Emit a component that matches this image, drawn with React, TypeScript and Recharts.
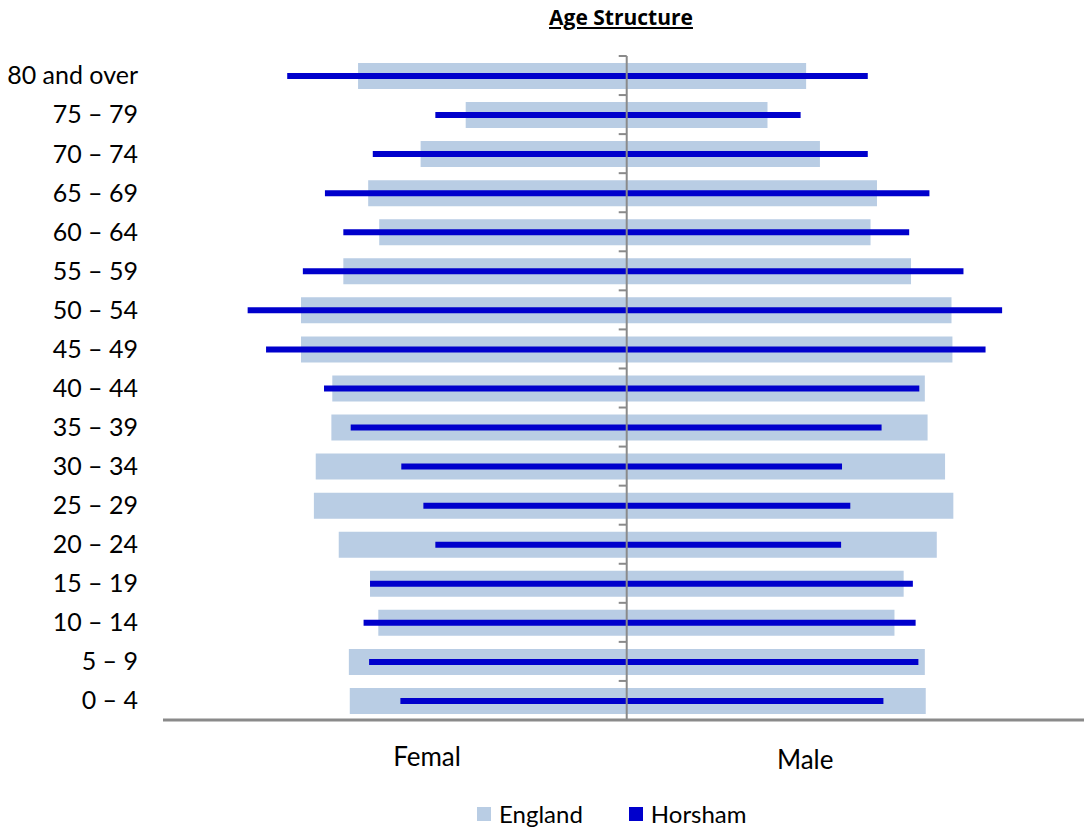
import { Bar, BarChart, Legend, ReferenceLine, XAxis, YAxis } from "recharts";

// age bands, top of the pyramid first
const ageGroups = [
  "80 and over",
  "75 – 79",
  "70 – 74",
  "65 – 69",
  "60 – 64",
  "55 – 59",
  "50 – 54",
  "45 – 49",
  "40 – 44",
  "35 – 39",
  "30 – 34",
  "25 – 29",
  "20 – 24",
  "15 – 19",
  "10 – 14",
  "5 – 9",
  "0 – 4",
];

// share of population (%)
const englandFemale = [2.92, 1.75, 2.24, 2.81, 2.69, 3.08, 3.54, 3.54, 3.2, 3.21, 3.38, 3.4, 3.13, 2.79, 2.7, 3.02, 3.01];
const englandMale = [1.95, 1.53, 2.1, 2.72, 2.65, 3.09, 3.53, 3.54, 3.24, 3.27, 3.46, 3.55, 3.37, 3.01, 2.91, 3.24, 3.25];
const horshamFemale = [3.69, 2.08, 2.76, 3.28, 3.08, 3.52, 4.12, 3.92, 3.29, 3.0, 2.45, 2.21, 2.08, 2.79, 2.86, 2.8, 2.46];
const horshamMale = [2.62, 1.89, 2.62, 3.29, 3.07, 3.66, 4.08, 3.9, 3.18, 2.77, 2.34, 2.43, 2.33, 3.11, 3.14, 3.17, 2.79];

const sideTicks = [-2.17, 1.94];
const sideLabels = ["Femal", "Male"];

const seriesNames = ["England", "Horsham"];
const seriesColors = ["#b9cde4", "#0000cc"];

const data = ageGroups.map((age, i) => ({
  age,
  england: [-englandFemale[i], englandMale[i]],
  horsham: [-horshamFemale[i], horshamMale[i]],
}));

const FONT = "Lato, 'Open Sans', sans-serif";
const AXIS_GREY = "#8a8a8a";

// centre axis with small tick marks on the left at each band boundary
const CentreAxis = (props: any) => {
  const { x1, y1, y2 } = props;
  const top = Math.min(y1, y2);
  const bottom = Math.max(y1, y2);
  const step = (bottom - top) / ageGroups.length;
  return (
    <g>
      <line x1={x1} y1={top} x2={x1} y2={bottom} stroke={AXIS_GREY} strokeWidth={2} />
      {ageGroups.map((g, i) => (
        <line
          key={g}
          x1={x1 - 8}
          x2={x1}
          y1={top + i * step}
          y2={top + i * step}
          stroke={AXIS_GREY}
          strokeWidth={2}
        />
      ))}
    </g>
  );
};

const SideTick = (props: any) => {
  const { x, y, payload } = props;
  const idx = sideTicks.indexOf(payload.value);
  return (
    <text
      x={x}
      y={y}
      dy={idx === 0 ? 46 : 49}
      textAnchor="middle"
      fontSize={26}
      fontFamily={FONT}
      fill="#000"
    >
      {sideLabels[idx]}
    </text>
  );
};

const LegendContent = () => (
  <div style={{ display: "flex", alignItems: "center", fontFamily: FONT, fontSize: 24, color: "#000" }}>
    {seriesNames.map((name, i) => (
      <div key={name} style={{ display: "flex", alignItems: "center", marginRight: i === 0 ? 46 : 0 }}>
        <span style={{ width: 14, height: 14, background: seriesColors[i], marginRight: 8, display: "inline-block" }} />
        <span>{name}</span>
      </div>
    ))}
  </div>
);

export default function App() {
  return (
    <div style={{ position: "absolute", left: 0, top: 0, width: 1084, height: 833, background: "#fff" }}>
      <div
        style={{
          position: "absolute",
          left: 521,
          top: 3,
          width: 200,
          textAlign: "center",
          fontFamily: "'Open Sans', sans-serif",
          fontWeight: 700,
          fontSize: 21,
          textDecoration: "underline",
          color: "#000",
          zIndex: 2,
        }}
      >
        Age Structure
      </div>
      <BarChart
        width={1084}
        height={833}
        data={data}
        layout="vertical"
        margin={{ top: 56, right: 0, left: 0, bottom: 53 }}
      >
        <XAxis
          type="number"
          domain={[-5.04, 4.97]}
          ticks={sideTicks}
          tick={<SideTick />}
          tickLine={false}
          tickSize={0}
          tickMargin={0}
          height={60}
          axisLine={{ stroke: AXIS_GREY, strokeWidth: 3 }}
          allowDataOverflow
        />
        <YAxis
          yAxisId="age"
          type="category"
          dataKey="age"
          width={163}
          axisLine={false}
          tickLine={false}
          tickSize={0}
          tickMargin={25}
          interval={0}
          tick={{ fontSize: 25, fontFamily: FONT, fill: "#000" }}
        />
        <YAxis yAxisId="overlay" type="category" dataKey="age" hide />
        <Legend
          layout="horizontal"
          verticalAlign="middle"
          align="center"
          content={<LegendContent />}
          wrapperStyle={{ left: 477, top: 799, width: "auto" }}
        />
        <Bar
          yAxisId="age"
          dataKey="england"
          name="England"
          fill={seriesColors[0]}
          barSize={26}
          isAnimationActive={false}
        />
        <Bar
          yAxisId="overlay"
          dataKey="horsham"
          name="Horsham"
          fill={seriesColors[1]}
          barSize={6}
          isAnimationActive={false}
        />
        <ReferenceLine yAxisId="age" x={0} shape={<CentreAxis />} />
      </BarChart>
    </div>
  );
}
